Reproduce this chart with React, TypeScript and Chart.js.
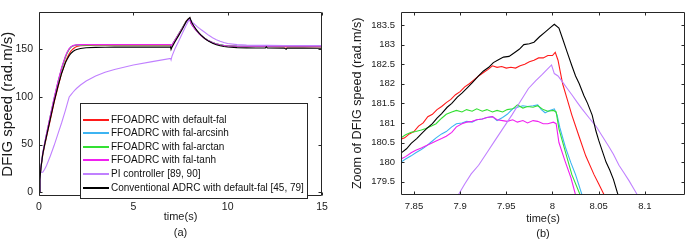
import React, { useEffect, useRef } from 'react';
import { Chart, registerables } from 'chart.js';
Chart.register(...registerables);

const FONT = '"Liberation Sans", Arial, Helvetica, sans-serif';
const INK = '#262626';

// ---------- legend / series ----------
const seriesNames = [
  'FFOADRC with default-fal',
  'FFOADRC with fal-arcsinh',
  'FFOADRC with fal-arctan',
  'FFOADRC with fal-tanh',
  'PI controller [89, 90]',
  'Conventional ADRC with default-fal [45, 79]',
];
const seriesColors = ['#ff1a1a', '#3db4f2', '#33e033', '#f020f0', '#c080ff', '#000000'];
const drawOrder = [5, 4, 3, 2, 1, 0];

// ---------- panel (a): full response ----------
const xTicksA = [0, 5, 10, 15];
const yTicksA = [0, 50, 100, 150];
const tA = [0, 0.05, 0.1, 0.2, 0.3, 0.4, 0.6, 0.8, 1.0, 1.2, 1.4, 1.5, 1.6, 1.7, 1.8, 1.9, 2.0, 2.2, 2.5, 3.0,
  3.5, 4, 5, 6, 6.98, 7.0, 7.05, 7.2, 7.4, 7.6, 7.8, 7.9, 8.0, 8.05, 8.1, 8.2, 8.3, 8.4, 8.5, 8.6,
  8.8, 9.0, 9.2, 9.4, 9.6, 9.8, 10, 10.5, 11, 11.5, 12, 12.05, 12.1, 13, 13.1, 13.15, 14, 15];
const redA = [0, 13, 25, 39, 49, 58, 76, 94, 110, 125, 137, 141.5, 145.5, 148.5, 150.5, 152, 153, 153.8, 154.2, 154.4,
  154.4, 154.4, 154.4, 154.4, 154.4, 152, 154, 159.2, 165.8, 172.5, 179.8, 181.78, 182.72, 179.45, 177, 173.8, 171, 168.6, 166.5, 164.6,
  161.4, 159, 157.2, 155.8, 154.9, 154.2, 153.8, 153.2, 153, 153, 153, 153.6, 153, 152.9, 152.5, 152.9, 152.9, 152.8];
const blueA = [0, 14, 26, 41, 51, 61, 80, 98, 115, 130, 142, 146.8, 150.4, 152.6, 153.8, 154.3, 154.6, 154.8, 154.9, 155,
  155, 155, 155, 155, 155, 152.8, 154.6, 159.4, 165.9, 172.5, 179, 181.0, 181.36, 178, 176.2, 173.4, 170.8, 168.5, 166.4, 164.6,
  161.4, 159, 157.2, 155.8, 154.9, 154.3, 153.9, 153.5, 153.4, 153.4, 153.4, 154, 153.4, 153.3, 153.3, 153.3, 153.3, 153.3];
const greenA = [0, 14, 26, 41, 51, 61, 80, 98, 115, 130, 142, 146.6, 150.2, 152.5, 153.7, 154.2, 154.5, 154.7, 154.8, 154.9,
  154.9, 154.9, 154.9, 154.9, 154.9, 152.6, 154.5, 159.5, 166.2, 173, 179.6, 181.3, 181.32, 177.8, 176.1, 173.3, 170.7, 168.4, 166.3, 164.5,
  161.3, 158.9, 157.1, 155.7, 154.8, 154.2, 153.8, 153.4, 153.3, 153.3, 153.3, 153.9, 153.3, 153.2, 153.2, 153.2, 153.2, 153.2];
const magentaA = [0, 14.5, 26.5, 41.5, 51.5, 61.5, 80.5, 99, 116, 131, 143, 147.5, 150.8, 152.9, 154, 154.5, 154.8, 155, 155.1, 155.2,
  155.2, 155.2, 155.2, 155.2, 155.2, 153, 154.8, 159.6, 166, 172.5, 179, 180.98, 181.02, 177.6, 176, 173.2, 170.6, 168.3, 166.2, 164.4,
  161.2, 158.8, 157, 155.6, 154.7, 154.1, 153.7, 153.4, 153.3, 153.3, 153.3, 153.8, 153.3, 153.3, 153.3, 153.3, 153.3, 153.3];
const piA = [0, 20, 21, 21, 24, 28, 38, 49, 61, 73, 86, 93, 100, 102.5, 105, 107.2, 109.2, 112.6, 116.8, 122,
  126, 129, 133.6, 137.2, 140.5, 139, 143, 150.5, 158.5, 167, 175.3, 179.2, 182.48, 180.8, 179.1, 177.2, 175.4, 173.7, 172.1, 170.6,
  167.8, 164.8, 162.3, 160.2, 158.6, 157.3, 156.3, 155, 154.5, 154.3, 154.2, 154.2, 154.2, 154.1, 154.1, 154.1, 154.1, 154.1];
const blackA = [0, 13, 25, 40, 50, 59, 77, 95, 111, 125, 136, 140, 143.5, 146, 147.8, 149.1, 150, 151, 151.7, 152.1,
  152.3, 152.4, 152.4, 152.4, 152.4, 150, 152.4, 157.8, 164.5, 171.5, 179.2, 181.72, 183.5, 180.56, 178.2, 174.8, 171.8, 169.2, 166.8, 164.7,
  161.2, 158.5, 156.4, 154.9, 153.8, 153, 152.5, 151.9, 151.6, 151.5, 151.5, 152.6, 151.5, 151.4, 150.2, 151.4, 151.4, 151.3];
const seriesA = [redA, blueA, greenA, magentaA, piA, blackA];

// ---------- panel (b): zoom around t = 8 s ----------
const xTicksB = [7.85, 7.9, 7.95, 8, 8.05, 8.1];
const yTicksB = [179.5, 180, 180.5, 181, 181.5, 182, 182.5, 183, 183.5];
const tRedB = [7.830, 7.835, 7.840, 7.845, 7.850, 7.855, 7.860, 7.865, 7.870, 7.875, 7.880, 7.885, 7.890, 7.895, 7.900,
  7.905, 7.910, 7.915, 7.920, 7.925, 7.930, 7.935, 7.940, 7.945, 7.950, 7.955, 7.960, 7.965, 7.970, 7.975, 7.980, 7.985,
  7.990, 7.995, 8.000, 8.003, 8.006, 8.011, 8.016, 8.021, 8.029, 8.036, 8.045, 8.050, 8.056, 8.062];
const vRedB = [180.50, 180.58, 180.62, 180.72, 180.78, 180.92, 181.00, 181.16, 181.22, 181.34, 181.42, 181.52, 181.60, 181.72, 181.80,
  181.92, 182.00, 182.10, 182.20, 182.28, 182.36, 182.46, 182.42, 182.44, 182.40, 182.42, 182.40, 182.46, 182.50, 182.56, 182.60, 182.66,
  182.66, 182.72, 182.72, 182.80, 182.60, 182.00, 181.60, 181.20, 180.64, 180.16, 179.68, 179.45, 179.16, 178.80];
const tBlackB = [7.830, 7.836, 7.842, 7.847, 7.853, 7.858, 7.864, 7.870, 7.875, 7.880, 7.886, 7.891, 7.897, 7.902, 7.908,
  7.913, 7.920, 7.925, 7.931, 7.936, 7.942, 7.947, 7.953, 7.958, 7.964, 7.969, 7.975, 7.980, 7.986, 7.992, 7.997, 8.002,
  8.007, 8.011, 8.016, 8.021, 8.025, 8.029, 8.034, 8.038, 8.043, 8.047, 8.050, 8.054, 8.058, 8.062, 8.066, 8.071, 8.076];
const vBlackB = [180.16, 180.23, 180.34, 180.48, 180.60, 180.72, 180.86, 180.98, 181.12, 181.24, 181.40, 181.50, 181.66, 181.76, 181.90,
  182.02, 182.20, 182.32, 182.42, 182.54, 182.62, 182.68, 182.70, 182.78, 182.88, 183.00, 183.02, 183.06, 183.20, 183.32, 183.42, 183.52,
  183.42, 183.15, 182.80, 182.46, 182.20, 182.00, 181.70, 181.50, 181.20, 180.80, 180.56, 180.28, 180.00, 179.80, 179.56, 179.16, 178.85];
const tGreenB = [7.830, 7.836, 7.841, 7.847, 7.852, 7.858, 7.863, 7.869, 7.874, 7.880, 7.885, 7.891, 7.896, 7.902, 7.907,
  7.913, 7.918, 7.924, 7.929, 7.935, 7.940, 7.946, 7.951, 7.957, 7.962, 7.968, 7.973, 7.979, 7.984, 7.990, 7.995, 8.001,
  8.004, 8.007, 8.014, 8.021, 8.030, 8.036];
const vGreenB = [180.55, 180.62, 180.70, 180.76, 180.78, 180.82, 180.86, 180.92, 180.98, 181.12, 181.22, 181.28, 181.32, 181.28, 181.34,
  181.30, 181.36, 181.30, 181.34, 181.28, 181.32, 181.28, 181.34, 181.36, 181.46, 181.38, 181.42, 181.40, 181.44, 181.34, 181.30, 181.32,
  181.28, 180.85, 180.26, 179.68, 179.16, 178.80];
const tBlueB = [7.830, 7.836, 7.841, 7.847, 7.852, 7.858, 7.863, 7.869, 7.874, 7.880, 7.885, 7.891, 7.896, 7.902, 7.907,
  7.913, 7.918, 7.924, 7.929, 7.935, 7.940, 7.946, 7.951, 7.957, 7.962, 7.968, 7.973, 7.979, 7.984, 7.988, 7.992, 7.997,
  8.002, 8.005, 8.008, 8.014, 8.020, 8.025, 8.032, 8.038];
const vBlueB = [179.94, 180.00, 180.08, 180.16, 180.24, 180.32, 180.40, 180.52, 180.62, 180.72, 180.78, 180.90, 180.98, 181.00, 181.04,
  181.02, 181.08, 181.10, 181.14, 181.16, 181.06, 181.14, 181.22, 181.36, 181.40, 181.44, 181.42, 181.44, 181.46, 181.34, 181.26, 181.32,
  181.36, 181.20, 180.88, 180.38, 179.98, 179.68, 179.16, 178.80];
const tMagentaB = [7.830, 7.836, 7.841, 7.847, 7.852, 7.858, 7.863, 7.869, 7.874, 7.880, 7.885, 7.891, 7.896, 7.902, 7.907,
  7.913, 7.918, 7.924, 7.929, 7.935, 7.940, 7.946, 7.951, 7.957, 7.962, 7.968, 7.973, 7.979, 7.984, 7.990, 7.995, 8.001,
  8.004, 8.007, 8.014, 8.020, 8.025, 8.030];
const vMagentaB = [180.02, 180.08, 180.14, 180.24, 180.30, 180.36, 180.42, 180.48, 180.54, 180.60, 180.66, 180.76, 180.90, 180.98, 181.02,
  181.04, 181.08, 181.10, 181.14, 181.16, 181.08, 181.06, 181.04, 181.08, 181.02, 181.06, 181.00, 181.06, 181.04, 180.98, 180.98, 181.02,
  180.98, 180.50, 180.00, 179.60, 179.16, 178.80];
const tPiB = [7.893, 7.898, 7.905, 7.912, 7.920, 7.929, 7.938, 7.947, 7.956, 7.965, 7.974, 7.982, 7.989, 7.994, 7.999,
  8.002, 8.006, 8.011, 8.016, 8.021, 8.027, 8.032, 8.040, 8.047, 8.054, 8.061, 8.066, 8.072, 8.077, 8.083, 8.088, 8.092, 8.098];
const vPiB = [178.85, 179.16, 179.44, 179.70, 179.92, 180.24, 180.56, 180.88, 181.20, 181.54, 181.88, 182.08, 182.24, 182.36, 182.48,
  182.26, 182.20, 182.04, 181.88, 181.72, 181.52, 181.36, 181.12, 180.92, 180.66, 180.40, 180.20, 179.92, 179.74, 179.52, 179.32, 179.16, 178.90];
const seriesB: [number[], number[]][] = [
  [tRedB, vRedB], [tBlueB, vBlueB], [tGreenB, vGreenB], [tMagentaB, vMagentaB], [tPiB, vPiB], [tBlackB, vBlackB],
];

// ---------- helpers ----------
const framePlugin = {
  id: 'matlabFrame',
  afterDatasetsDraw(chart: any) {
    const { ctx, chartArea } = chart;
    const { left, right, top, bottom } = chartArea;
    const x = chart.scales.x;
    const y = chart.scales.y;
    const L = 3;
    ctx.save();
    ctx.strokeStyle = INK;
    ctx.lineWidth = 1;
    const l = Math.round(left) + 0.5;
    const r = Math.round(right) - 0.5;
    const t = Math.round(top) + 0.5;
    const b = Math.round(bottom) - 0.5;
    ctx.beginPath();
    ctx.rect(l, t, r - l, b - t);
    for (const tk of x.ticks) {
      const px = Math.round(x.getPixelForValue(tk.value)) + 0.5;
      ctx.moveTo(px, b); ctx.lineTo(px, b - L);
      ctx.moveTo(px, t); ctx.lineTo(px, t + L);
    }
    for (const tk of y.ticks) {
      const py = Math.round(y.getPixelForValue(tk.value)) + 0.5;
      ctx.moveTo(l, py); ctx.lineTo(l + L, py);
      ctx.moveTo(r, py); ctx.lineTo(r - L, py);
    }
    ctx.stroke();
    ctx.restore();
  },
};

const LEGEND_BOX = { dx: 41, dy: 91, w: 227, h: 95, row0: 16.5, rowStep: 13.6, lineFrom: 3, lineTo: 29, textAt: 31 };
const legendPlugin = {
  id: 'boxLegend',
  afterDraw(chart: any) {
    const { ctx, chartArea } = chart;
    const x0 = Math.round(chartArea.left) + LEGEND_BOX.dx;
    const y0 = Math.round(chartArea.top) + LEGEND_BOX.dy;
    ctx.save();
    ctx.fillStyle = '#ffffff';
    ctx.fillRect(x0, y0, LEGEND_BOX.w, LEGEND_BOX.h);
    ctx.strokeStyle = INK;
    ctx.lineWidth = 1;
    ctx.strokeRect(x0 + 0.5, y0 + 0.5, LEGEND_BOX.w, LEGEND_BOX.h);
    ctx.font = `10px ${FONT}`;
    ctx.textBaseline = 'middle';
    ctx.textAlign = 'left';
    seriesNames.forEach((name, i) => {
      const yy = Math.round(y0 + LEGEND_BOX.row0 + LEGEND_BOX.rowStep * i);
      ctx.strokeStyle = seriesColors[i];
      ctx.lineWidth = 2;
      ctx.beginPath();
      ctx.moveTo(x0 + LEGEND_BOX.lineFrom, yy);
      ctx.lineTo(x0 + LEGEND_BOX.lineTo, yy);
      ctx.stroke();
      ctx.fillStyle = '#111111';
      ctx.fillText(name, x0 + LEGEND_BOX.textAt, yy + 0.5);
    });
    ctx.restore();
  },
};

function tickSetter(values: number[]) {
  return (scale: any) => {
    scale.ticks = values.map((v) => ({ value: v }));
  };
}

function axisOpts(o: any) {
  return {
    type: 'linear',
    min: o.min,
    max: o.max,
    afterBuildTicks: tickSetter(o.ticks),
    afterFit: (s: any) => {
      if (o.height !== undefined) s.height = o.height;
      if (o.width !== undefined) s.width = o.width;
    },
    grid: { display: false, drawTicks: false },
    border: { display: false },
    ticks: {
      autoSkip: false,
      maxRotation: 0,
      padding: o.tickPad,
      color: '#1a1a1a',
      font: { family: FONT, size: o.tickSize },
      callback: (v: any) => String(v),
    },
    title: {
      display: true,
      text: o.title,
      color: '#1a1a1a',
      font: { family: FONT, size: o.titleSize, lineHeight: o.titleLH },
      padding: o.titlePad,
    },
  };
}

function ChartCanvas({ config, style }: { config: () => any; style: React.CSSProperties }) {
  const ref = useRef<HTMLCanvasElement>(null);
  useEffect(() => {
    if (!ref.current) return;
    const chart = new Chart(ref.current, config());
    return () => chart.destroy();
  }, []);
  return <canvas ref={ref} width={340} height={240} style={{ position: 'absolute', width: 340, height: 240, ...style }} />;
}

const baseDataset = (i: number, data: any[]) => ({
  label: seriesNames[i],
  data,
  borderColor: seriesColors[i],
  backgroundColor: seriesColors[i],
  borderWidth: 1.1,
  pointRadius: 0,
  tension: 0,
  fill: false,
  order: drawOrder[i],
});

const configA = () => ({
  type: 'line',
  data: {
    datasets: seriesA.map((vals, i) => baseDataset(i, tA.map((t, k) => ({ x: t, y: vals[k] })))),
  },
  options: {
    responsive: false,
    animation: false,
    devicePixelRatio: 1,
    layout: { padding: { left: 0, right: 18, top: 2, bottom: 0 } },
    plugins: { legend: { display: false }, tooltip: { enabled: false } },
    scales: {
      x: axisOpts({ min: 0, max: 15, ticks: xTicksA, height: 44, tickPad: 5, tickSize: 10.5, title: ['time(s)', '(a)'], titleSize: 11, titleLH: '16px', titlePad: { top: 0, bottom: -1 } }),
      y: axisOpts({ min: -4, max: 189, ticks: yTicksA, width: 39, tickPad: 6, tickSize: 10.5, title: 'DFIG speed (rad.m/s)', titleSize: 15, titleLH: 1, titlePad: { top: 0, bottom: 0 } }),
    },
  },
  plugins: [framePlugin, legendPlugin],
});

const configB = () => ({
  type: 'line',
  data: {
    datasets: seriesB.map(([ts, vs], i) => baseDataset(i, ts.map((t, k) => ({ x: t, y: vs[k] })))),
  },
  options: {
    responsive: false,
    animation: false,
    devicePixelRatio: 1,
    layout: { padding: { left: 0, right: 0, top: 0, bottom: 0 } },
    plugins: { legend: { display: false }, tooltip: { enabled: false } },
    scales: {
      x: axisOpts({ min: 7.836, max: 8.1435, ticks: xTicksB, height: 45, tickPad: 6, tickSize: 9.5, title: ['time(s)', '(b)'], titleSize: 11, titleLH: '15px', titlePad: { top: 0, bottom: -1.5 } }),
      y: axisOpts({ min: 179.16, max: 183.84, ticks: yTicksB, width: 56, tickPad: 6, tickSize: 9.5, title: 'Zoom of DFIG speed (rad.m/s)', titleSize: 12.6, titleLH: 1, titlePad: { top: 6.5, bottom: 0 } }),
    },
  },
  plugins: [framePlugin],
});

export default function App() {
  return (
    <div style={{ position: 'fixed', left: 0, top: 0, width: 685, height: 240, background: '#ffffff', overflow: 'hidden' }}>
      <ChartCanvas config={configA} style={{ left: 0, top: 0 }} />
      <ChartCanvas config={configB} style={{ left: 345, top: 0 }} />
    </div>
  );
}
